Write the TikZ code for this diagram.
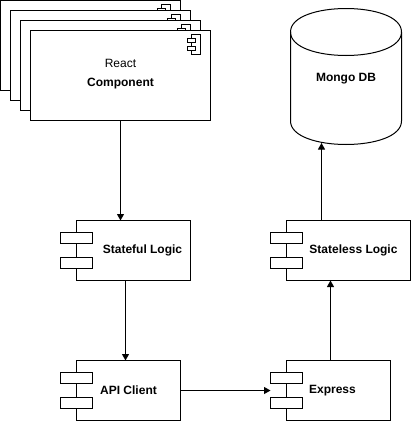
\documentclass[tikz,border=0pt]{standalone}
\usepackage{fontspec}
\setmainfont{Liberation Sans}
\usetikzlibrary{calc,arrows.meta}
\begin{document}
\begin{tikzpicture}[x=1pt,y=-1pt,
  every node/.style={font=\fontsize{12}{14}\selectfont, inner sep=0pt, outer sep=0pt},
  frame/.style={draw, fill=white, line width=1pt, minimum width=180pt, minimum height=90pt, anchor=north west},
  mainbox/.style={draw, fill=white, line width=1pt, minimum height=60pt, anchor=north west},
  tab/.style={draw, fill=white, line width=1pt, minimum width=32pt, minimum height=11pt},
  icon/.style={draw, fill=white, line width=1pt},
  lbl/.style={font=\fontsize{12}{14}\selectfont\bfseries},
  arr/.style={line width=1pt, -{Triangle[length=6.5pt,width=7pt]}}
]
\useasboundingbox (-0.5,-0.5) rectangle (410.5,420.5);

% stacked React component frames
\foreach \k in {0,1,2,3}{
  \node[frame] (r\k) at (10*\k,10*\k) {};
  \draw[icon] ($(r\k.north east)+(-19,4)$) rectangle ($(r\k.north east)+(-10,24)$);
  \draw[icon] ($(r\k.north east)+(-23,8)$) rectangle ($(r\k.north east)+(-15,12)$);
  \draw[icon] ($(r\k.north east)+(-23,16)$) rectangle ($(r\k.north east)+(-15,20)$);
}
\node (react) at (120,63) {React};
\node[lbl] (comp) at (120,83) {Component};

% Mongo DB cylinder
\draw[line width=1pt, fill=white] (290,31.5) .. controls (290,0.17) and (401,0.17) .. (401,31.5)
  -- (401,120.5) .. controls (401,151.83) and (290,151.83) .. (290,120.5) -- cycle;
\draw[line width=1pt] (290,31.5) .. controls (290,62.83) and (401,62.83) .. (401,31.5);
\node[lbl] (db) at (345.5,78) {Mongo DB};
\coordinate (dbin) at (321,142.5);

% components
\node[mainbox, minimum width=114pt] (sf) at (76,220) {};
\node[mainbox, minimum width=124pt] (sl) at (286,220) {};
\node[mainbox, minimum width=104pt] (api) at (76,360) {};
\node[mainbox, minimum width=104pt] (ex) at (286,360) {};
\foreach \n in {sf,sl,api,ex}{
  \node[tab] (\n1) at ($(\n.west)+(0,-12.5)$) {};
  \node[tab] (\n2) at ($(\n.west)+(0,12.5)$) {};
}
\node[lbl] (sft) at (142,250) {Stateful Logic};
\node[lbl] (slt) at (353,250) {Stateless Logic};
\node[lbl] (apit) at (128,390) {API Client};
\node[lbl] (ext) at (332,390) {Express};

% connectors
\draw[arr] (r3.south -| comp) -- (r3.south |- sf.north);
\draw[arr] ([xshift=49pt]sf.south west) -- ([xshift=49pt]api.north west);
\draw[arr] (api.east) -- (ex.west -| ex1.west);
\draw[arr] ([xshift=44pt]ex.north west) -- ([xshift=44pt]sl.south west);
\draw[arr] ([xshift=35pt]sl.north west) -- (dbin);
\end{tikzpicture}
\end{document}
